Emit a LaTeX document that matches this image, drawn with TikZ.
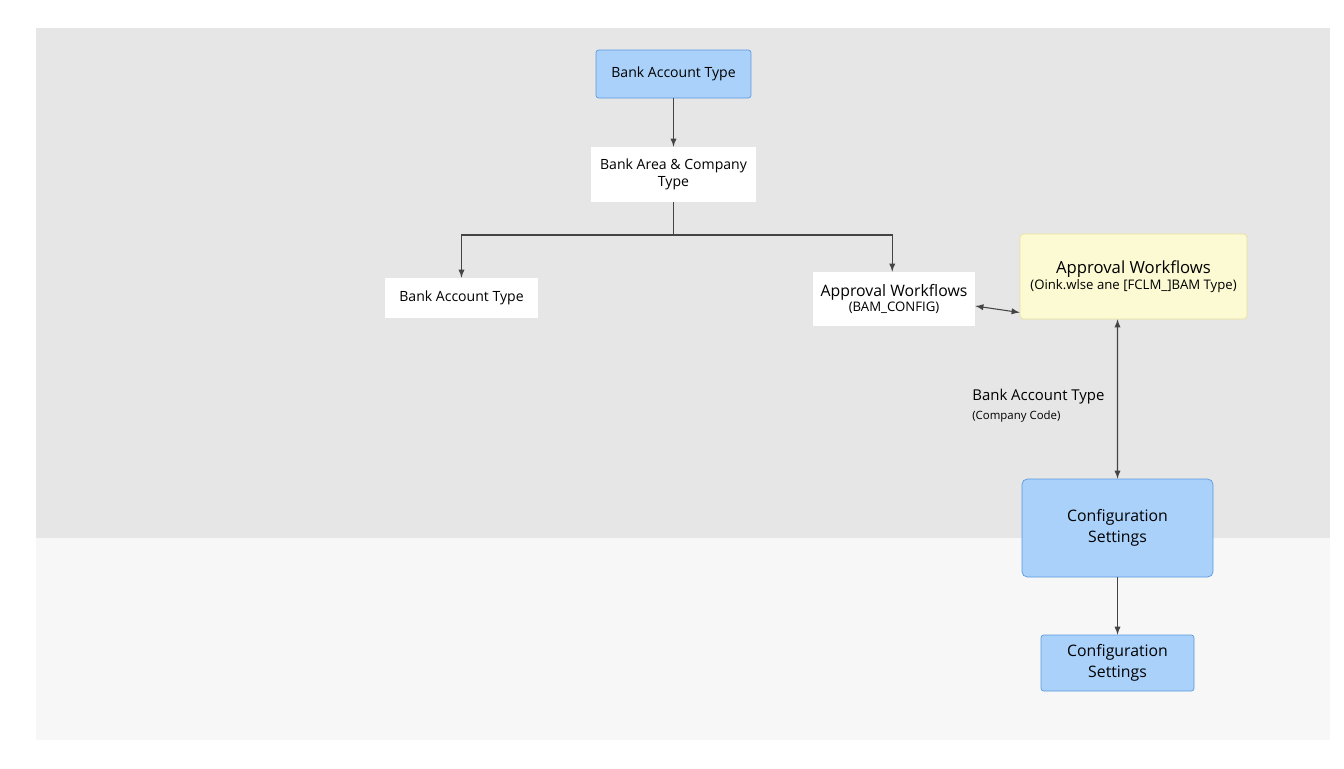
\documentclass[tikz,border=0pt]{standalone}
\usepackage{fontspec}
\setmainfont{Open Sans}
\definecolor{bgtop}{HTML}{E6E6E6}
\definecolor{bgbot}{HTML}{F7F7F7}
\definecolor{bluefill}{HTML}{A9D1FA}
\definecolor{blueline}{HTML}{5B9BE0}
\definecolor{yellowfill}{HTML}{FCFAD2}
\definecolor{yellowline}{HTML}{E9E19C}
\definecolor{arrowgray}{HTML}{444444}
\begin{document}
\begin{tikzpicture}[x=0.02cm,y=-0.02cm,
    box/.style={draw=none, fill=white, align=center, inner sep=0pt, font=\fontsize{8}{10}\selectfont},
    bluebox/.style={box, draw=blueline, fill=bluefill, rounded corners=1.5pt},
    conn/.style={draw=arrowgray, line width=0.6pt, -latex},
    both/.style={conn, latex-latex}]
  % backgrounds
  \useasboundingbox (0,0) rectangle (1344,768);
  \fill[white] (0,0) rectangle (1344,768);
  \fill[bgtop] (36,28) rectangle (1330,538);
  \fill[bgbot] (36,538) rectangle (1330,740);

  % nodes
  \node[bluebox, minimum width=155\pgflinewidth*0+3.1cm, minimum height=0.96cm] (acct) at (673.5,74) {Bank Account Type};
  \node[box, minimum width=3.3cm, minimum height=1.1cm] (area) at (673.5,174.5) {Bank Area \& Company\\Type};
  \node[box, minimum width=3.06cm, minimum height=0.8cm] (left) at (461.5,298) {Bank Account Type};
  \node[box, minimum width=3.24cm, minimum height=1.08cm] (appr) at (894,299)
    {{\fontsize{9}{11}\selectfont Approval Workflows}\\[-1pt]{\fontsize{7.5}{9}\selectfont (BAM\_CONFIG)}};
  \node[box, draw=yellowline, fill=yellowfill, rounded corners=2pt, minimum width=4.54cm, minimum height=1.7cm] (yell) at (1133.5,276.5)
    {{\fontsize{9.5}{12}\selectfont Approval Workflows}\\[-1pt]{\fontsize{7.5}{9}\selectfont (Oink.wlse ane [FCLM\_]BAM Type)}};
  \node[bluebox, rounded corners=3pt, minimum width=3.82cm, minimum height=1.96cm, font=\fontsize{9}{12}\selectfont] (conf) at (1117.5,528) {Configuration\\Settings};
  \node[bluebox, minimum width=3.06cm, minimum height=1.12cm, font=\fontsize{9}{12}\selectfont] (confb) at (1117.5,663) {Configuration\\Settings};

  % connectors
  \coordinate (split) at (673.5,235);
  \draw[conn] (acct) -- (area);
  \draw[conn] (area.south) -- (split) -| (left.north);
  \draw[conn] (split) -| ([xshift=-1pt]appr.north);
  \draw[both] ([yshift=-4pt]appr.east) -- ([yshift=-0.72cm]yell.west);
  \draw[both] ([xshift=-0.32cm]yell.south) -- (conf.north);
  \draw[conn] (confb.north |- conf.south) -- (confb);
  \node[anchor=west, align=left, inner sep=0pt] (lab) at (972,406)
    {{\fontsize{8.5}{10}\selectfont Bank Account Type}\\[-1pt]{\fontsize{6.5}{8}\selectfont (Company Code)}};
\end{tikzpicture}
\end{document}
